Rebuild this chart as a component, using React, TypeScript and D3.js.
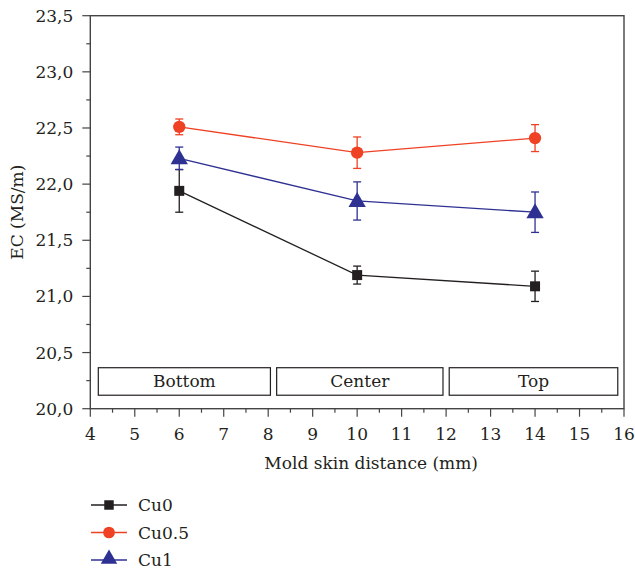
import React from 'react';
import * as d3 from 'd3';

const W = 635;
const H = 569;

const xPositions = [6, 10, 14];
const seriesNames = ['Cu0', 'Cu0.5', 'Cu1'];
const cu0Values = [21.94, 21.19, 21.09];
const cu0Errors = [0.19, 0.08, 0.135];
const cu05Values = [22.51, 22.28, 22.41];
const cu05Errors = [0.07, 0.14, 0.12];
const cu1Values = [22.23, 21.85, 21.75];
const cu1Errors = [0.1, 0.17, 0.18];
const seriesColors = ['#231f20', '#ef4123', '#2e3192'];
const seriesSymbols = [d3.symbolSquare, d3.symbolCircle, d3.symbolTriangle];

const regionLabels = ['Bottom', 'Center', 'Top'];
const regionStarts = [4.18, 8.19, 12.07];
const regionEnds = [8.05, 11.93, 15.86];
const regionTop = 20.365;
const regionBottom = 20.12;

const xTicks = d3.range(4, 17, 1);
const xMinor = d3.range(4.5, 16, 1);
const yTicks = d3.range(20, 23.51, 0.5);
const yMinor = d3.range(20.25, 23.5, 0.5);

const FONT = "DejaVu Serif, Times New Roman, Liberation Serif, serif";
const FS = 17;

export default function App() {
  const x = d3.scaleLinear().domain([4, 16]).range([90.3, 624]);
  const y = d3.scaleLinear().domain([20, 23.5]).range([408.7, 15.7]);

  const series = [
    { name: seriesNames[0], values: cu0Values, errors: cu0Errors },
    { name: seriesNames[1], values: cu05Values, errors: cu05Errors },
    { name: seriesNames[2], values: cu1Values, errors: cu1Errors },
  ];

  const line = d3.line<number>()
    .x((_, i) => x(xPositions[i]))
    .y(d => y(d));

  const symbolSizes = [100, 120, 130];
  const axisColor = '#444';
  const txt = { fontFamily: FONT, fontSize: FS, fill: '#231f20' };

  return (
    <svg width={W} height={H} style={{ position: 'absolute', left: 0, top: 0 }}>
      <rect width={W} height={H} fill="#fff" />
      {/* frame */}
      <rect x={x(4)} y={y(23.5)} width={x(16) - x(4)} height={y(20) - y(23.5)}
        fill="none" stroke={axisColor} strokeWidth={1.4} />

      {/* x ticks */}
      {xTicks.map(t => (
        <g key={'xt' + t}>
          <line x1={x(t)} x2={x(t)} y1={y(20)} y2={y(20) + 8} stroke={axisColor} strokeWidth={1.2} />
          <text x={x(t)} y={y(20) + 31} textAnchor="middle" style={txt}>{t}</text>
        </g>
      ))}
      {xMinor.map(t => (
        <line key={'xm' + t} x1={x(t)} x2={x(t)} y1={y(20)} y2={y(20) + 4} stroke={axisColor} strokeWidth={1.2} />
      ))}

      {/* y ticks */}
      {yTicks.map(t => (
        <g key={'yt' + t}>
          <line x1={x(4) - 8} x2={x(4)} y1={y(t)} y2={y(t)} stroke={axisColor} strokeWidth={1.2} />
          <text x={x(4) - 17} y={y(t) + 6} textAnchor="end" style={txt}>
            {t.toFixed(1).replace('.', ',')}
          </text>
        </g>
      ))}
      {yMinor.map(t => (
        <line key={'ym' + t} x1={x(4) - 4} x2={x(4)} y1={y(t)} y2={y(t)} stroke={axisColor} strokeWidth={1.2} />
      ))}

      {/* axis titles */}
      <text x={(x(4) + x(16)) / 2 + 14} y={469} textAnchor="middle" style={txt}>
        Mold skin distance (mm)
      </text>
      <text transform={`translate(23, ${y(21.75)}) rotate(-90)`} textAnchor="middle" style={txt}>
        EC (MS/m)
      </text>

      {/* region boxes */}
      {regionLabels.map((lab, i) => (
        <g key={lab}>
          <rect x={x(regionStarts[i])} y={y(regionTop)} width={x(regionEnds[i]) - x(regionStarts[i])}
            height={y(regionBottom) - y(regionTop)} fill="none" stroke="#231f20" strokeWidth={1.2} />
          <text x={(x(regionStarts[i]) + x(regionEnds[i])) / 2} y={(y(regionTop) + y(regionBottom)) / 2 + 6}
            textAnchor="middle" style={txt}>{lab}</text>
        </g>
      ))}

      {/* series */}
      {series.map((s, si) => (
        <g key={s.name}>
          <path d={line(s.values) || ''} fill="none" stroke={seriesColors[si]} strokeWidth={1.3} />
          {s.values.map((v, i) => {
            const cx = x(xPositions[i]);
            const top = y(v + s.errors[i]);
            const bot = y(v - s.errors[i]);
            return (
              <g key={i}>
                <line x1={cx} x2={cx} y1={top} y2={bot} stroke={seriesColors[si]} strokeWidth={1.3} />
                <line x1={cx - 4} x2={cx + 4} y1={top} y2={top} stroke={seriesColors[si]} strokeWidth={1.3} />
                <line x1={cx - 4} x2={cx + 4} y1={bot} y2={bot} stroke={seriesColors[si]} strokeWidth={1.3} />
                <path transform={`translate(${cx},${y(v) + (si === 2 ? 1 : 0)})`}
                  d={d3.symbol().type(seriesSymbols[si]).size(symbolSizes[si])() || ''}
                  fill={seriesColors[si]} />
              </g>
            );
          })}
        </g>
      ))}

      {/* legend */}
      {series.map((s, si) => {
        const ly = 505 + si * 27.5;
        return (
          <g key={'lg' + s.name}>
            <line x1={91} x2={127} y1={ly} y2={ly} stroke={seriesColors[si]} strokeWidth={1.3} />
            <path transform={`translate(109,${ly + (si === 2 ? -1 : 0)})`}
              d={d3.symbol().type(seriesSymbols[si]).size(symbolSizes[si] * 0.9)() || ''}
              fill={seriesColors[si]} />
            <text x={138} y={ly + 6} style={txt}>{s.name}</text>
          </g>
        );
      })}
    </svg>
  );
}
